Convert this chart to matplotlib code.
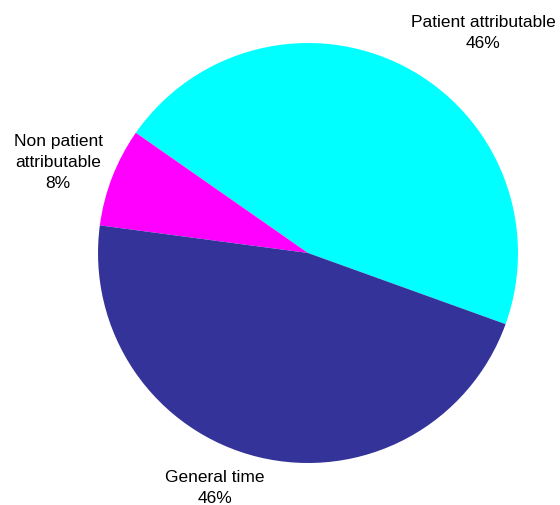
import matplotlib.pyplot as plt

plt.rcParams['font.family'] = ['Liberation Sans', 'DejaVu Sans']

categories = ["Patient attributable", "Non patient\nattributable", "General time"]
values = [45.8, 7.6, 46.6]
pct_labels = ["46%", "8%", "46%"]
colors = ["#00FFFF", "#FF00FF", "#333399"]

fig = plt.figure(figsize=(5.6, 5.06), dpi=100)
ax = fig.add_axes([0.175, 0.083, 0.75, 0.83])
ax.pie(values, colors=colors, startangle=-19.8, counterclock=True,
       radius=1.0, wedgeprops=dict(linewidth=0))
ax.set_xlim(-1, 1)
ax.set_ylim(-1, 1)
ax.set_aspect('equal')
ax.axis('off')

# label positions in figure fraction
label_pos = [(0.8625, 0.935), (0.1036, 0.678), (0.384, 0.036)]
for cat, pct, (x, y) in zip(categories, pct_labels, label_pos):
    fig.text(x, y, "%s\n%s" % (cat, pct), ha='center', va='center',
             fontsize=12.5, color='black', linespacing=1.5)

fig.savefig("out.png", dpi=100)
